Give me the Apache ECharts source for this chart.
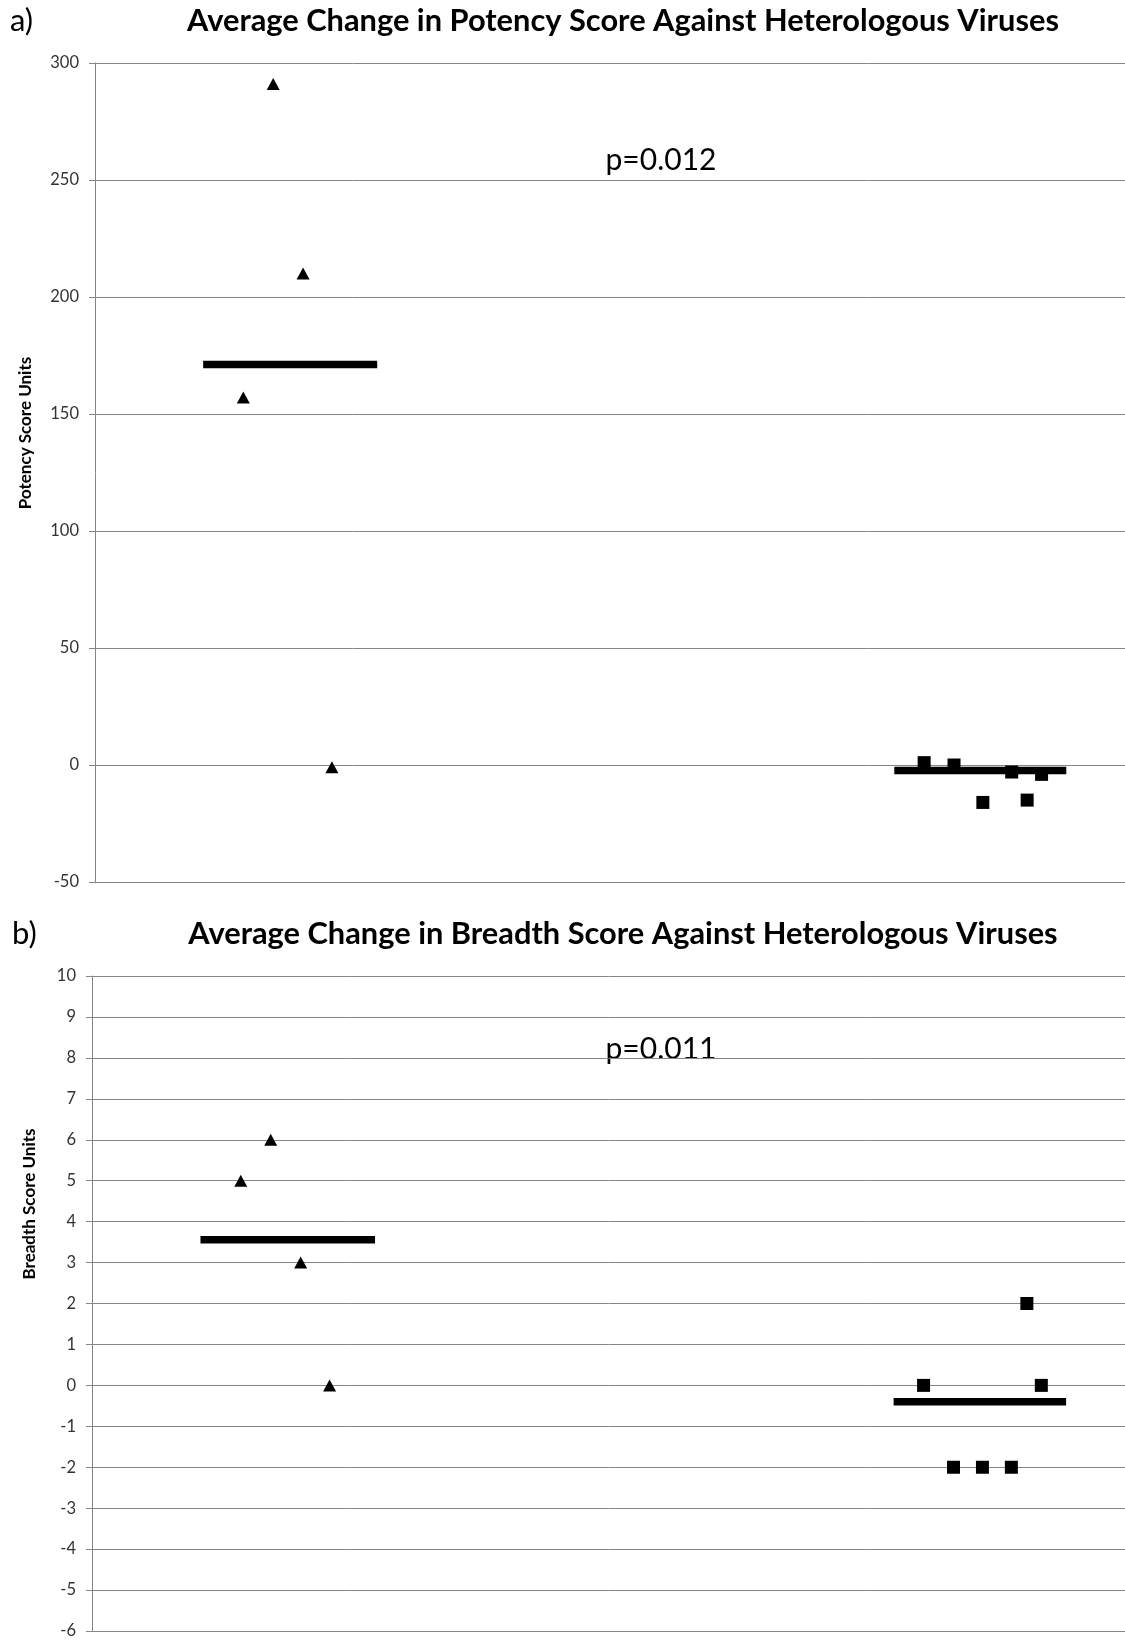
<!DOCTYPE html>
<html>
<head>
<meta charset="utf-8">
<script src="https://cdn.jsdelivr.net/npm/echarts@6/dist/echarts.min.js"></script>
<style>
html,body{margin:0;padding:0;background:#fff;}
#chart{width:1125px;height:1640px;}
</style>
</head>
<body>
<div id="chart"></div>
<script>
// ---- data ----
const triX = [1.44, 1.73, 2.02, 2.30];
const sqX = [8.05, 8.34, 8.62, 8.90, 9.05, 9.19];
const potencyTri = [157, 291, 210, -1];
const potencySq = [1, 0, -16, -3, -15, -4];
const breadthTri = [5, 6, 3, 0];
const breadthSq = [0, -2, -2, -2, 2, 0];
const triMeanX = [1.05, 2.74];
const sqMeanX = [7.76, 9.43];
const potencyMeans = [171.2, -2.3];   // [triangle group, square group]
const breadthMeans = [3.56, -0.4];
const potencyAxis = {min: -50, max: 300, interval: 50};
const breadthAxis = {min: -6, max: 10, interval: 1};
const titles = ['Average Change in Potency Score Against Heterologous Viruses',
                'Average Change in Breadth Score Against Heterologous Viruses'];
const panelLabels = ['a)', 'b)'];
const pValues = ['p=0.012', 'p=0.011'];
const yNames = ['Potency Score Units', 'Breadth Score Units'];

const FONT = 'Lato';
const GRID = '#868686';

function pairs(xs, ys){ return xs.map((x,i)=>[x, ys[i]]); }

const chart = echarts.init(document.getElementById('chart'), null, {renderer:'canvas'});

function yAxisFor(idx, ax){
  return {
    type:'value', gridIndex: idx, min: ax.min, max: ax.max, interval: ax.interval,
    axisLine:{show:true, lineStyle:{color:GRID, width:1}},
    axisTick:{show:true, length:6, lineStyle:{color:GRID, width:1}},
    axisLabel:{margin:16, color:'#333', fontFamily:FONT, fontSize:16.5},
    splitLine:{show:true, lineStyle:{color:GRID, width:1}}
  };
}
function xAxisFor(idx){
  return {
    type:'value', gridIndex: idx, min:0, max:10,
    axisLine:{show:true, onZero:false, lineStyle:{color:GRID, width:1}},
    axisTick:{show:false}, axisLabel:{show:false}, splitLine:{show:false}
  };
}
function scatter(idx, xs, ys, sym, size){
  return {type:'scatter', xAxisIndex:idx, yAxisIndex:idx, data:pairs(xs, ys),
    symbol:sym, symbolSize:size, itemStyle:{color:'#000', opacity:1}, silent:true, z:3};
}
function meanLine(idx, xs, v){
  return {type:'line', xAxisIndex:idx, yAxisIndex:idx, data:xs.map(x=>[x, v]),
    symbol:'none', lineStyle:{color:'#000', width:7.5, cap:'butt'}, silent:true, z:4};
}

const option = {
  backgroundColor:'#fff',
  animation:false,
  grid:[
    {left:95, top:63, width:1030, height:819},
    {left:92, top:976, width:1033, height:655}
  ],
  xAxis:[xAxisFor(0), xAxisFor(1)],
  yAxis:[yAxisFor(0, potencyAxis), yAxisFor(1, breadthAxis)],
  series:[
    scatter(0, triX, potencyTri, 'triangle', [13,12]),
    scatter(0, sqX, potencySq, 'rect', 13),
    meanLine(0, triMeanX, potencyMeans[0]),
    meanLine(0, sqMeanX, potencyMeans[1]),
    scatter(1, triX, breadthTri, 'triangle', [13,12]),
    scatter(1, sqX, breadthSq, 'rect', 13),
    meanLine(1, triMeanX, breadthMeans[0]),
    meanLine(1, sqMeanX, breadthMeans[1])
  ],
  graphic:[
    {type:'text', x:10, y:21, style:{text:panelLabels[0], font:'31px '+FONT, fill:'#000', verticalAlign:'middle'}},
    {type:'text', x:12, y:934, style:{text:panelLabels[1], font:'31px '+FONT, fill:'#000', verticalAlign:'middle'}},
    {type:'text', x:623, y:21, style:{text:titles[0], font:'bold 30.8px '+FONT, fill:'#000', align:'center', verticalAlign:'middle'}},
    {type:'text', x:623, y:934, style:{text:titles[1], font:'bold 30.8px '+FONT, fill:'#000', align:'center', verticalAlign:'middle'}},
    {type:'text', x:661, y:160, style:{text:pValues[0], font:'30px '+FONT, fill:'#000', align:'center', verticalAlign:'middle'}},
    {type:'text', x:661, y:1049, style:{text:pValues[1], font:'30px '+FONT, fill:'#000', align:'center', verticalAlign:'middle'}},
    {type:'text', x:26, y:433, rotation:Math.PI/2, style:{text:yNames[0], font:'bold 17px '+FONT, fill:'#000', align:'center', verticalAlign:'middle'}},
    {type:'text', x:30, y:1204, rotation:Math.PI/2, style:{text:yNames[1], font:'bold 17px '+FONT, fill:'#000', align:'center', verticalAlign:'middle'}}
  ]
};
chart.setOption(option);
</script>
</body>
</html>
